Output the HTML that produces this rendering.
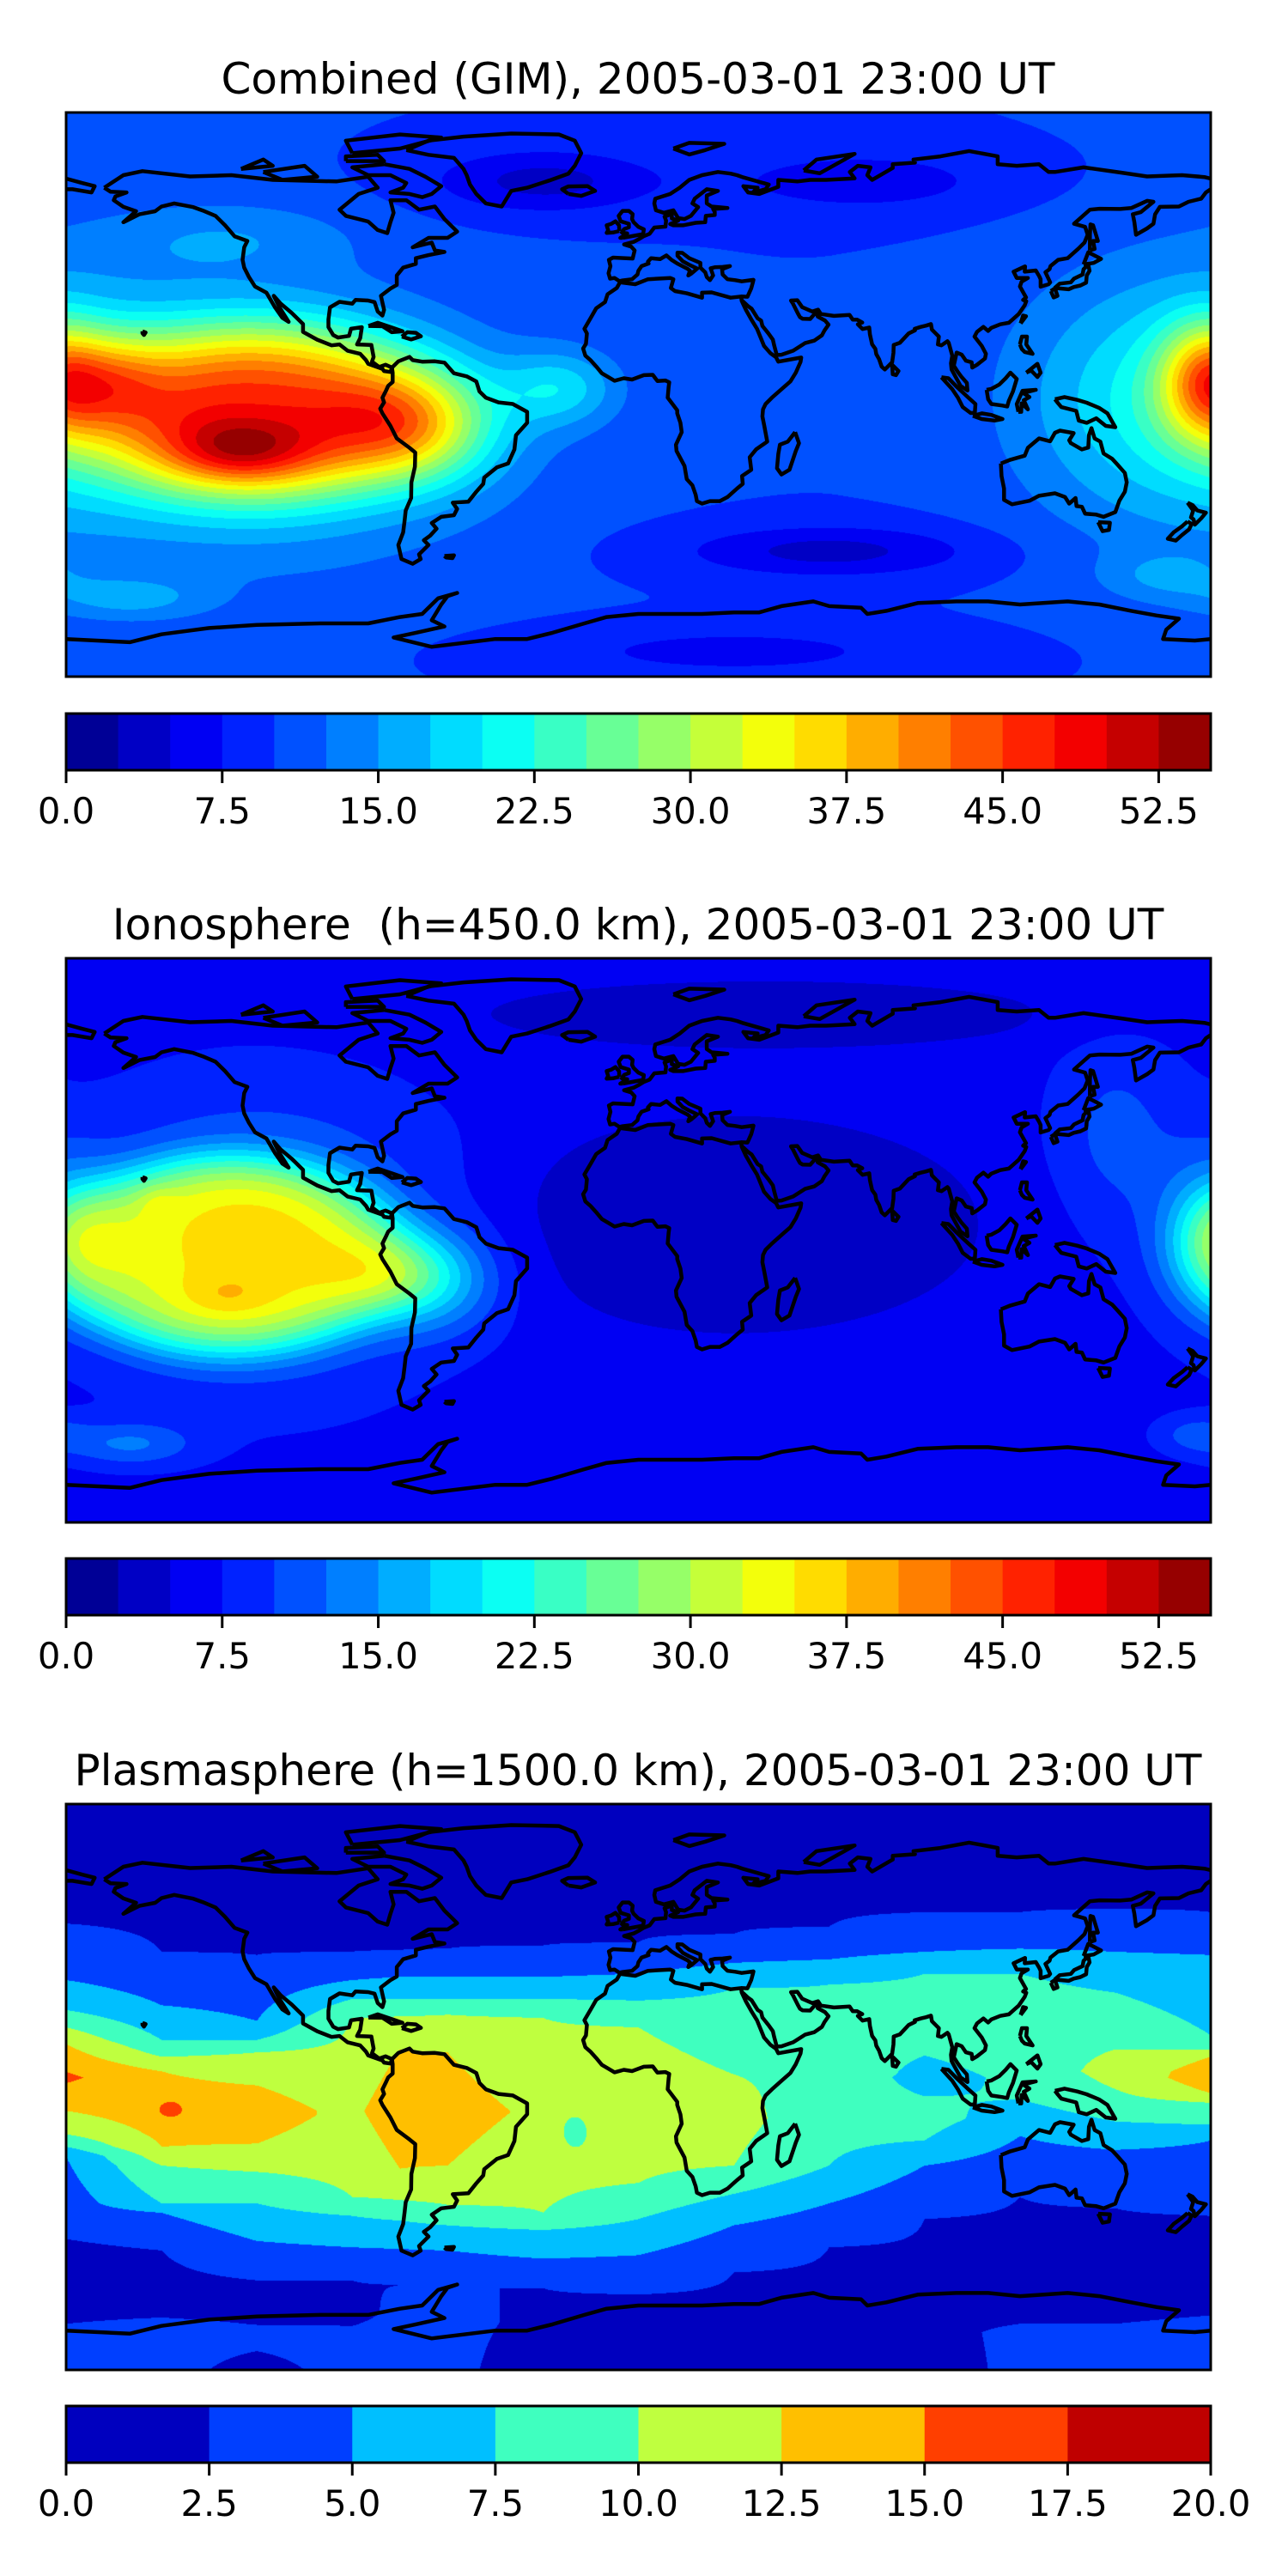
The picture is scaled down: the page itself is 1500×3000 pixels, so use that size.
<!DOCTYPE html>
<html><head><meta charset="utf-8">
<style>
html,body{margin:0;padding:0;background:#fff;}
#wrap{position:relative;width:1500px;height:3000px;overflow:hidden;background:#fff;}
canvas{position:absolute;}
svg{position:absolute;left:0;top:0;}
text{font-family:"DejaVu Sans","Liberation Sans",sans-serif;fill:#000;}
</style></head>
<body>
<div id="wrap">
<canvas id="map0" width="1333" height="657" style="left:77px;top:131px"></canvas>
<canvas id="map1" width="1333" height="657" style="left:77px;top:1116px"></canvas>
<canvas id="map2" width="1333" height="659" style="left:77px;top:2101px"></canvas>
<svg id="ov" width="1500" height="3000" xmlns="http://www.w3.org/2000/svg">
<text x="743" y="109" font-size="50" text-anchor="middle">Combined (GIM), 2005-03-01 23:00 UT</text>
<text x="743" y="1094" font-size="50" text-anchor="middle" xml:space="preserve">Ionosphere  (h=450.0 km), 2005-03-01 23:00 UT</text>
<text x="743" y="2079" font-size="50" text-anchor="middle">Plasmasphere (h=1500.0 km), 2005-03-01 23:00 UT</text>
</svg>
</div>
<script>
// ---- data ----
const panelTops = [131, 1116, 2101];
const cbarTops = [831, 1815, 2802];
const levelStep = [2.5, 2.5, 2.5];
const levelCount = [22, 22, 8];
const tickValues01 = [0, 7.5, 15, 22.5, 30, 37.5, 45, 52.5];
const tickLabels01 = ["0.0","7.5","15.0","22.5","30.0","37.5","45.0","52.5"];
const tickValues2 = [0, 2.5, 5, 7.5, 10, 12.5, 15, 17.5, 20];
const tickLabels2 = ["0.0","2.5","5.0","7.5","10.0","12.5","15.0","17.5","20.0"];

// combined (GIM) blobs: lon, lat, amplitude, sigma-lon, sigma-lat, shape exponent
const combBase = 10;
const combLon = [-120,-125,-165,178,-25,-70,-120,165,-30,70,60,30,-160,165,-130];
const combLat = [-5,-18,5,5,2,-10,-10,0,68,68,-50,-82,-65,-58,50];
const combAmp = [26,10,8,18,8,15,10,9,-6,-4,-6,-3.5,5,4,4];
const combSx = [55,22,15,14,18,25,70,45,35,45,45,60,25,20,40];
const combSy = [28,10,15,18,12,18,40,40,10,10,8,8,7,8,12];
const combQ = [1.5,1,1,1,1,1,1,1,1,1,1,1,1,1,1];

// ionosphere blobs
const ionoBase = 6.5;
const ionoLon = [-130,-120,-151,-130,180,-70,30,40,-160,175,150];
const ionoLat = [-5,0,12,-18,3,-12,5,72,-65,-62,35];
const ionoAmp = [21,9,2.5,3,10,14,-3,-3,6,4,4];
const ionoSx = [55,55,6,14,16,22,85,100,20,12,20];
const ionoSy = [32,42,5,7,22,15,38,12,7,6,30];
const ionoQ = [2.5,1,1,1,1,1,2,1.5,1,1,1];

// plasmasphere: latitude profiles at longitude nodes (contour crossings)
const plasNodeLon = [-180,-150,-120,-90,-75,-60,-30,0,30,60,90,120,150,180];
const plasNodeLat = [
  [90,52,34,24.5,19,13.6,3,-7.6,-15,-19,-22,-45,-55,-70,-78,-90],
  [90,43,26,15,9.6,5,-7.6,-19,-25,-37,-40,-52,-70,-75,-90],
  [90,42,21,15,11,0.5,-9,-18,-27,-37,-49,-61.5,-71,-78,-90],
  [90,43,34,28,22,-7.6,-35,-41,-51,-61.5,-72,-80,-90],
  [90,43.5,35,28,22.5,12,-8,-26,-36,-42.5,-51.5,-63,-75,-90],
  [90,44,35,28,23,11,-7.6,-25,-37.5,-44,-52,-64,-75,-90],
  [90,45,35,28,22,-8,-40,-45.5,-54.6,-64,-90],
  [90,46,36,27.5,19,-8,-30.5,-42,-53.5,-66,-90],
  [90,48.7,39.5,31.4,4,-10,-25,-34,-44,-59,-90],
  [90,51,40.6,32.6,4,-25,-37,-51,-90],
  [90,55.6,43,36,21,10,3,-3,-10,-17,-25,-42,-90],
  [90,55.6,44,36,21,-4,-15.6,-35,-70,-78,-90],
  [90,56.7,43,30,12,5,-0.7,-11,-20,-38.6,-70,-78,-90],
  [90,55.6,42,16.5,12,9.6,3,-2,-5,-12,-17,-41,-68,-75,-90]
];
const plasNodeVal = [
  [1,2.5,5,7.5,10,12.5,15.5,12.5,10,7.5,5,3,1.5,1.5,3,3],
  [1,2.5,5,7.5,10,12.5,14,12.5,10,7.5,5,2.5,1.5,3,3],
  [1,2.5,5,7.5,10,12.5,13.5,12.5,10,7.5,5,2.5,1.5,3,2],
  [1,2.5,5,7.5,10,12,10,7.5,5,2.5,2,3,3],
  [1,2.5,5,7.5,10,12.5,14,12.5,10,7.5,5,2.5,3,3],
  [1,2.5,5,7.5,10,12.5,13.5,12.5,10,7.5,5,2.5,3,3],
  [1,2.5,5,7.5,10,12,10,7.5,5,2.5,1.5],
  [1,2.5,5,7.5,10,12,10,7.5,5,2.5,1.5],
  [1,2.5,5,7.5,10,10.8,10,7.5,5,2.5,1.5],
  [1,2.5,5,7.5,9.5,7.5,5,2.5,1.5],
  [1,2.5,5,7.5,9,7.5,6.5,7.5,8.5,7.5,5,2.5,1.5],
  [1,2.5,5,7.5,9.5,7.5,5,2.5,1.5,3,3],
  [1,2.5,5,7.5,10,11,10,7.5,5,2.5,1.5,3,3],
  [1,2.5,5,7.5,10,12.5,14,12.5,10,7.5,5,2.5,1.5,3,3]
];
const plasLon = [-20,-147];
const plasLat = [-12,-7];
const plasAmp = [-2,2.5];
const plasSx = [8,4];
const plasSy = [10,3];
const plasQ = [1,1];

// coastlines (lon,lat)
const coastNA=[[-168,66],[-162,70],[-156,71.3],[-141,69.6],[-128,70],[-115,68.5],[-95,68],[-85,69.5],[-82,66],[-88,64],[-94,59],[-92,57],[-85,55.2],[-82,52.5],[-79,51.5],[-78,55],[-77,58],[-78,62],[-73,62],[-69,59],[-64,60],[-61,56],[-57,52],[-60,50],[-66,50],[-71,47],[-65,48.5],[-64,46],[-61,45.5],[-66,44.5],[-70,43.5],[-70,41.7],[-74,40.5],[-76,38],[-76,35],[-78,33.8],[-81,31.5],[-80,27],[-80.5,25.2],[-82,26.5],[-83,29.5],[-85,30],[-89,30.2],[-90,29],[-94,29.6],[-97,27.8],[-97.5,24],[-97.5,21.5],[-96,19],[-94.5,18.2],[-91,18.7],[-90.4,21],[-87,21.5],[-87.5,18],[-88.5,16],[-84,15.8],[-83.3,12],[-83.8,10.5],[-81.5,8.8],[-79.5,9.5],[-77.5,8.6],[-78,7.2],[-80,7.5],[-80.5,8.2],[-85,9.8],[-85.7,11],[-87.5,13],[-91.5,14],[-94,16],[-96.5,15.7],[-101,17.5],[-105.5,20],[-105.5,22.5],[-109,26],[-112.5,29],[-114.7,31.5],[-113,28],[-110,23.2],[-112,24.5],[-114.3,27.8],[-117,32.5],[-120.6,34.5],[-122.5,37.5],[-124,40.5],[-124.5,43],[-124,47],[-123,49],[-127,50.5],[-130,54],[-133,57],[-137,58.7],[-140,59.8],[-146,61],[-150,60],[-152,58.5],[-157,57.5],[-162,55],[-158,58.5],[-162,59.9],[-165,62],[-164.5,63.2],[-161,64.5],[-166,64.7],[-168,66]];
const coastGreenland=[[-73,78],[-66,81],[-55,82.3],[-40,83.3],[-25,83],[-20,81],[-18,77],[-20,73],[-22,70.5],[-28,68.3],[-35,66],[-40,65],[-43,60],[-48,61],[-51,64],[-53,67],[-54,70],[-55,72],[-58,75.5],[-66,76.5],[-73,78]];
const coastBaffin=[[-80,73.5],[-72,72],[-67,69.5],[-62,66.5],[-65,64],[-68,63],[-72,64],[-78,64.5],[-74,66],[-73,67.5],[-78,70],[-85,70],[-90,72.5],[-80,73.5]];
const coastVictoria=[[-118,71],[-105,73],[-101,69.5],[-112,68.5],[-118,71]];
const coastEllesmere=[[-90,77],[-75,78.5],[-62,82],[-75,83],[-92,81],[-90,77]];
const coastBanks=[[-125,72],[-118,75],[-115,73],[-125,72]];
const coastDevon=[[-92,74.5],[-80,74.5],[-82,76.5],[-92,76],[-92,74.5]];
const coastSA=[[-77.5,8.6],[-75.5,10.6],[-72,12],[-71,11],[-68,10.5],[-64,10.6],[-61,10.2],[-58,6.8],[-54,5.8],[-51,4.2],[-50,1],[-48,-1],[-44,-2.5],[-39.5,-3],[-35,-5.5],[-35,-9],[-38.5,-13],[-39,-17.5],[-41,-22],[-44.5,-23.2],[-48.5,-26.5],[-48.8,-28.5],[-51,-31],[-53.5,-34.2],[-58.4,-34.5],[-57,-36.5],[-58,-38.5],[-62,-39],[-65,-41],[-63.5,-42.8],[-65.5,-45],[-67.5,-46.5],[-66,-48],[-69,-51],[-68.5,-52.5],[-71,-54],[-74.5,-52.5],[-75.5,-48],[-74,-44],[-73.5,-40],[-73.2,-37],[-71.5,-33],[-71.4,-28],[-70.3,-23],[-70.2,-18.5],[-72,-17],[-76,-14],[-78,-10],[-80.5,-6],[-81.2,-4.5],[-80,-2.5],[-80.5,-1],[-79.5,1],[-78.7,2.8],[-77.3,4],[-77.3,7],[-77.5,8.6]];
const coastAfrica=[[-5.8,35.8],[-1,35.2],[3,36.8],[10,37.2],[11,36.8],[10.2,34],[11.5,33],[15.2,32.3],[20,30.9],[20,32.5],[23,32.6],[29,30.9],[32.3,31.3],[32.5,29.9],[33.8,27],[35.5,24],[37.3,21],[38.5,18],[39.5,15.5],[41.5,13.2],[43.3,11.9],[44,10.5],[51.2,11.8],[51,10.4],[49.5,7],[47.8,4.2],[45,1.7],[42,-1],[40,-3],[39.2,-4.7],[39,-7],[39.6,-10],[40.5,-15],[37,-17.5],[35,-20],[35.5,-24],[32.6,-26],[32.8,-28.5],[31,-30],[28,-32.7],[25.6,-34],[22.5,-34],[20,-34.8],[18.4,-34],[18,-32],[17,-29],[15.2,-27],[14.5,-22.8],[12,-18],[11.8,-16],[13.6,-12],[13.2,-9],[12.2,-6],[12.2,-5],[9.2,-1],[9.5,2.5],[9.7,3.9],[8.5,4.5],[6,4.3],[4.5,6.3],[1.7,6.2],[-2,4.8],[-4.6,5.2],[-7.5,4.4],[-11.5,6.8],[-13.3,9],[-15,10.9],[-16.7,12.4],[-17.4,14.7],[-16.5,16.2],[-16.2,19.5],[-17,21],[-15,24.5],[-13.3,27.5],[-10.5,29.5],[-9.7,32],[-6.8,34],[-5.8,35.8]];
const coastEurasia=[[32.3,31.3],[34.3,31.2],[35.5,33.9],[36,35.8],[36.2,36.6],[32.5,36.1],[30.5,36.5],[28,36.8],[26.5,38.3],[26.3,40],[28.8,41],[26.5,40.7],[24,40.6],[22.7,40.3],[23.5,38],[22.5,36.5],[21.5,37.5],[21,39],[19.5,40.5],[19.5,42],[16,43.5],[13.8,45.2],[12.3,45.3],[12.3,44.3],[14,42.5],[16,41.4],[18.5,40.2],[16.5,38.5],[15.7,38],[16.2,39.5],[15.5,40.1],[12.2,41.8],[10.5,42.9],[8.8,44.4],[6.8,43.2],[4,43.5],[3,42.4],[3.2,41.8],[1,41],[0,39.5],[-0.3,38.3],[-2,36.8],[-5,36.4],[-6,36.2],[-7.5,37.2],[-8.9,37],[-9.4,38.7],[-8.8,41],[-9.3,43],[-8,43.7],[-1.8,43.4],[-1.2,46],[-2.3,47.2],[-4.5,47.9],[-1.5,48.7],[0,49.5],[1.6,50.5],[3.5,51.3],[5,53.3],[8.5,53.6],[8.7,55.5],[8.2,56.8],[10.5,57.6],[10.5,56.2],[12.5,55.5],[10,54.4],[11,54],[14,54],[18,54.8],[21,55],[21.2,57],[24,57.3],[24,58.3],[23.5,59.2],[28,59.5],[23,60],[21.5,61],[21.5,63.5],[25,65],[21.5,65.5],[17.7,62.5],[17,61],[18.8,59.8],[16.5,57],[14.5,56],[12.5,56.3],[11,58.8],[8,58],[5.5,58.8],[5,61],[5.3,62.5],[10,64],[13,66],[16,68.5],[20,70],[25,71],[29,70.5],[31,70],[33,69.3],[41,67],[40,65.5],[36,64.5],[37.5,66],[33,66.5],[34.5,64.5],[38,64],[44,66.3],[44,68.5],[50,68],[54,68.5],[59,68.5],[68,69],[66.5,71],[69,73],[73,72.5],[72,70],[73.5,68.5],[80,72.3],[80,73.5],[87,74],[86.5,75],[95,76],[104,77.7],[113,76],[113,73.5],[119,73],[126,73.5],[129,71],[131,71],[140,72.5],[152,70.8],[160,69.6],[168,69.9],[171,70],[178,69.4],[180,68.9]];
const coastEurasia2=[[180,65.5],[178.5,64.5],[177,62.5],[173,61.5],[170,60],[164,59.9],[162.5,57.5],[162,54.5],[160,53],[156.5,51],[156,55],[155.5,57.5],[158,58.2],[162,61.5],[160,61.8],[155,59.5],[151.5,59.2],[145,59.3],[142,59],[137,54.5],[140.5,53.5],[141.3,51],[140.3,48.5],[138.3,46.5],[135,43.5],[132,43],[129.6,41],[129.3,40],[128,39],[129.5,35.8],[129,35.2],[126.5,34.4],[126.5,36.8],[126.1,37.7],[125,39.6],[121.5,39.2],[121.6,40.9],[118,39.2],[119,37.2],[122.5,37.2],[120.5,36],[120,34.5],[121.9,31],[121,30.2],[122,29.8],[121.5,28.5],[119.6,25.7],[116.5,22.9],[113.8,22.4],[111,21.3],[110,20.3],[108.5,21.6],[106.5,20],[105.7,18.5],[108,15.5],[109.3,13],[109,11.5],[106.5,9.5],[105,8.6],[104.8,10.3],[103,10.8],[101.7,12.7],[100.1,13.4],[99.2,9.2],[100.4,7.3],[101.5,5.8],[103.3,3.7],[103.5,1.3],[101.3,2.8],[98.5,8],[98.3,10],[98.7,12.4],[97.6,16.5],[97.2,17],[95.3,15.7],[94.2,16],[94.5,18.5],[93.5,19.5],[92.3,20.7],[92,22.5],[90.5,22],[88.8,21.6],[86.9,21],[87,20.5],[85,19.5],[82.2,16.5],[80.3,15.8],[80.2,13.3],[79.8,10.3],[77.5,8],[76.5,8.9],[75.7,11.3],[74.8,12.9],[74.5,14.6],[73.5,16],[72.8,19.2],[72.6,21.4],[70.5,20.9],[69,22.4],[70.4,23],[68.8,23.9],[67.4,23.9],[66.4,25.4],[61.5,25.1],[57.4,25.7],[56.5,27.1],[54.7,26.5],[51.5,27.9],[50,30.1],[48,30],[48.6,29],[50.1,26],[50.8,24.7],[51.6,24.2],[54,24.1],[56,26.4],[56.4,24.9],[58.7,23.6],[59.8,22.3],[58.5,20.4],[57.7,18.9],[55.3,17.2],[52.4,16.4],[48.7,14],[45,12.7],[43.5,12.6],[42.7,15.7],[42.3,17.5],[40.9,19.5],[39,21.9],[38.6,23.6],[37.5,24.3],[35.6,27.4],[34.6,28.1],[32.6,30]];
const coastChukotka=[[-180,68.9],[-175,67.5],[-171,66.5],[-172,64.5],[-178,65.5],[-180,65.5]];
const coastBritain=[[-5,50],[1.5,51.2],[1.7,52.7],[0,53.5],[-1.5,55],[-2,56],[-1.8,57.6],[-3,58.6],[-5,58.6],[-6.2,57],[-5.6,55.3],[-3,54.5],[-3,53.4],[-4.5,52.8],[-5.2,51.7],[-3.5,51.4],[-5.7,50],[-5,50]];
const coastIreland=[[-6,52.2],[-6.1,54],[-7.2,55.3],[-8.5,54.5],[-10,54],[-9.5,52.4],[-10,51.6],[-8,51.7],[-6,52.2]];
const coastIceland=[[-22,64],[-24,65.5],[-22,66.4],[-16,66.5],[-13.6,65],[-18,63.4],[-22,64]];
const coastHonshu=[[130.9,34],[132.5,35.4],[136,35.8],[137,37],[139.7,38.3],[140,40],[141.5,41.4],[141.9,39.5],[141,38],[140.8,35.7],[139,34.8],[136.9,34.3],[135.3,33.6],[132,33.9],[130.9,34]];
const coastHokkaido=[[140,41.5],[141.5,45.4],[145.5,43.3],[143.2,42],[140,41.5]];
const coastKyushu=[[129.7,33],[131,33.9],[131.8,31.5],[130.6,31],[129.7,33]];
const coastSakhalin=[[142,46],[143.5,46.5],[143,49],[144.5,49],[143,54],[142.2,54.3],[142,51],[142,46]];
const coastTaiwan=[[120.2,22.7],[121.9,25],[121,25.2],[120.2,22.7]];
const coastLuzon=[[120,16],[120.6,18.5],[122.2,18.5],[122,16],[124,13],[121.5,13.6],[120.6,14.5],[120,16]];
const coastMindanao=[[122,7],[125.5,9.8],[126.5,7],[125.5,5.6],[123.5,7.7],[122,7]];
const coastBorneo=[[109.5,1.5],[111,1.8],[113.5,3.2],[115.5,5.2],[117,7],[119,5],[117.8,1],[116.5,-2],[116,-3.8],[114.5,-3.5],[111,-3],[110,-1.5],[109.5,1.5]];
const coastSumatra=[[95.3,5.5],[97.5,5.2],[100.4,2.2],[103.8,-1],[106,-3],[105.8,-5.8],[104.5,-5.9],[102,-4],[100.5,-1],[98.7,1.7],[95.3,5.5]];
const coastJava=[[105.2,-6.8],[108,-6],[111,-6.5],[114.5,-7.8],[112,-8.3],[108,-7.8],[105.2,-6.8]];
const coastSulawesi=[[119.5,-5.5],[119,-3],[120.8,1.2],[125,1.5],[121,0.5],[123,-0.8],[121.2,-1.8],[122.5,-4.7],[120.5,-2.8],[120.4,-5.5],[119.5,-5.5]];
const coastNewGuinea=[[131,-1.5],[134,-0.8],[138,-1.7],[141,-2.6],[145,-4.3],[147.5,-6],[150,-10.4],[147,-10],[144,-7.6],[141,-9],[138.5,-8.3],[137.7,-5.2],[133,-4],[132,-2.8],[131,-1.5]];
const coastAustralia=[[114,-22],[114.2,-26],[115,-30],[115,-33.6],[117.5,-35],[123,-33.9],[126,-32.3],[131,-31.5],[134.2,-32.7],[135.5,-34.8],[137.5,-33],[137.8,-35.6],[139.5,-35.8],[140.5,-38],[144,-38.3],[146.3,-39],[150,-37.5],[151.3,-33.8],[153,-31],[153.6,-28],[153,-25],[150.8,-22.5],[149,-20.5],[146.3,-18.8],[145.3,-15],[143.5,-14],[142.5,-10.7],[141.7,-13],[141.5,-16.9],[139.5,-17.5],[136,-15.5],[135.5,-14.6],[136.9,-12.3],[132.6,-11.5],[131,-12.2],[129.5,-14.9],[126,-14],[122.5,-17],[121.5,-19.5],[117,-20.8],[114,-22]];
const coastTasmania=[[144.6,-40.7],[148.3,-40.9],[148,-43.2],[146,-43.6],[144.6,-40.7]];
const coastNZN=[[172.7,-34.5],[174.3,-35.3],[175.8,-37],[178.5,-37.7],[177,-39.5],[175,-41.5],[174.6,-39.8],[173.8,-39.2],[174.5,-37],[172.7,-34.5]];
const coastNZS=[[172.7,-40.5],[174,-41.3],[173.2,-43],[171,-44.8],[169,-46.6],[166.5,-46],[168.3,-44],[171,-42],[172.7,-40.5]];
const coastMadagascar=[[49.3,-12],[50.5,-15.5],[49.5,-18],[47.5,-24],[45,-25.5],[43.6,-23.5],[44,-19],[44.5,-16],[47,-15],[49.3,-12]];
const coastSriLanka=[[79.8,9.5],[81.8,7.5],[81,6.2],[80,6.5],[79.8,9.5]];
const coastCuba=[[-84.9,21.9],[-82,22.9],[-77,21.2],[-74.2,20.2],[-77.6,19.9],[-80.5,21.8],[-84.9,21.9]];
const coastHispaniola=[[-74.4,18.5],[-72.7,19.9],[-70,19.7],[-68.4,18.6],[-71.5,17.6],[-74.4,18.5]];
const coastNovaya=[[52,71.5],[56,75],[68,76.8],[57,70.6],[52,71.5]];
const coastSvalbard=[[11,78.5],[16,80.3],[27,80],[21,78],[16,76.6],[11,78.5]];
const coastHawaii=[[-156,20.2],[-155,19.8],[-155.5,19],[-156,19.6],[-156,20.2]];
const coastFalkland=[[-61,-51.5],[-58,-51.3],[-58.5,-52.2],[-60.5,-52],[-61,-51.5]];
const coastAntarctica=[[-180,-78],[-160,-79],[-150,-76.5],[-135,-74.5],[-120,-73.5],[-100,-73],[-85,-73],[-75,-71],[-68,-70],[-63,-65],[-57,-63.3],[-60,-64.3],[-62,-67],[-65,-72],[-61,-74],[-70,-76],[-77,-77.5],[-65,-80.5],[-45,-78],[-35,-78],[-27,-76],[-17,-73],[-10,-71],[0,-70],[10,-70],[20,-70],[30,-69.5],[38,-69.5],[45,-67.5],[55,-66],[60,-67.5],[70,-68],[72,-70],[78,-69],[88,-66.5],[100,-66],[110,-66],[120,-67],[135,-66],[145,-67],[155,-69],[163,-70.5],[170,-71.5],[166,-75],[165,-78],[175,-78.5],[180,-78]];
const coastlines=[coastNA,coastGreenland,coastBaffin,coastVictoria,coastEllesmere,coastBanks,coastDevon,coastSA,coastAfrica,coastEurasia,coastEurasia2,coastChukotka,coastBritain,coastIreland,coastIceland,coastHonshu,coastHokkaido,coastKyushu,coastSakhalin,coastTaiwan,coastLuzon,coastMindanao,coastBorneo,coastSumatra,coastJava,coastSulawesi,coastNewGuinea,coastAustralia,coastTasmania,coastNZN,coastNZS,coastMadagascar,coastSriLanka,coastCuba,coastHispaniola,coastNovaya,coastSvalbard,coastHawaii,coastFalkland,coastAntarctica];

// ---- helpers ----
const X0 = 77, W = 1333, H = 657;
function xOf(lon){ return X0 + (lon + 180) / 360 * W; }
function yOf(lat, top){ return top + (90 - lat) / 180 * H; }
function clamp(v){ return Math.max(0, Math.min(1, v)); }
function jet(x){
  return [clamp(Math.min(4*x-1.5, -4*x+4.5)), clamp(Math.min(4*x-0.5, -4*x+3.5)), clamp(Math.min(4*x+0.5, -4*x+2.5))];
}
function blobSum(lon, lat, L, La, A, Sx, Sy, Q){
  let s = 0;
  for (let k = 0; k < L.length; k++){
    let d = lon - L[k];
    if (d > 180) d -= 360; if (d < -180) d += 360;
    const r2 = (d/Sx[k])*(d/Sx[k]) + ((lat-La[k])/Sy[k])*((lat-La[k])/Sy[k]);
    s += A[k] * Math.exp(-Math.pow(r2, Q[k]));
  }
  return s;
}
function profileAt(n, lat){
  const la = plasNodeLat[n], va = plasNodeVal[n];
  for (let k = 0; k < la.length - 1; k++){
    if (lat <= la[k] && lat >= la[k+1]){
      const t = (la[k] - lat) / (la[k] - la[k+1] || 1);
      return va[k] + t * (va[k+1] - va[k]);
    }
  }
  return va[va.length - 1];
}
function plasField(lon, lat){
  let n = 0;
  while (n < plasNodeLon.length - 2 && lon > plasNodeLon[n+1]) n++;
  const t = (lon - plasNodeLon[n]) / (plasNodeLon[n+1] - plasNodeLon[n]);
  const v = profileAt(n, lat) * (1 - t) + profileAt(n+1, lat) * t;
  return v + blobSum(lon, lat, plasLon, plasLat, plasAmp, plasSx, plasSy, plasQ);
}
const fields = [
  (lon, lat) => combBase + blobSum(lon, lat, combLon, combLat, combAmp, combSx, combSy, combQ),
  (lon, lat) => ionoBase + blobSum(lon, lat, ionoLon, ionoLat, ionoAmp, ionoSx, ionoSy, ionoQ),
  plasField
];

// ---- draw maps ----
for (let p = 0; p < 3; p++){
  const cv = document.getElementById('map' + p);
  const ctx = cv.getContext('2d');
  const w = cv.width, h = cv.height;
  const img = ctx.createImageData(w, h);
  const N = levelCount[p], step = levelStep[p];
  const pal = [];
  for (let i = 0; i < N; i++){ const c = jet((i + 0.5) / N); pal.push([c[0]*255|0, c[1]*255|0, c[2]*255|0]); }
  for (let j = 0; j < h; j++){
    const lat = 90 - (j + 0.5) / h * 180;
    for (let i = 0; i < w; i++){
      const lon = -180 + (i + 0.5) / w * 360;
      let li = Math.floor(fields[p](lon, lat) / step);
      if (li < 0) li = 0; if (li >= N) li = N - 1;
      const o = (j * w + i) * 4, c = pal[li];
      img.data[o] = c[0]; img.data[o+1] = c[1]; img.data[o+2] = c[2]; img.data[o+3] = 255;
    }
  }
  ctx.putImageData(img, 0, 0);
}

// ---- overlay svg ----
const NS = 'http://www.w3.org/2000/svg';
const svg = document.getElementById('ov');
const names = ['combined', 'ionosphere', 'plasmasphere'];
for (let p = 0; p < 3; p++){
  const top = panelTops[p];
  const g = document.createElementNS(NS, 'g');
  
  
  coastlines.forEach(line => {
    const path = document.createElementNS(NS, 'path');
    
    
    path.setAttribute('d', line.map((pt, k) => (k ? 'L' : 'M') + xOf(pt[0]).toFixed(1) + ' ' + yOf(pt[1], top).toFixed(1)).join(''));
    path.setAttribute('fill', 'none');
    path.setAttribute('stroke', '#000');
    path.setAttribute('stroke-width', '4.5');
    path.setAttribute('stroke-linejoin', 'round');
    g.appendChild(path);
  });
  svg.appendChild(g);
  const frame = document.createElementNS(NS, 'rect');
  
  
  frame.setAttribute('x', X0); frame.setAttribute('y', top);
  frame.setAttribute('width', W); frame.setAttribute('height', p == 2 ? 659 : H);
  frame.setAttribute('fill', 'none'); frame.setAttribute('stroke', '#000'); frame.setAttribute('stroke-width', '3');
  svg.appendChild(frame);

  // colorbar
  const ct = cbarTops[p], ch = 66, N = levelCount[p], step = levelStep[p];
  const vmax = N * step;
  const cx = v => X0 + v / vmax * W;
  for (let i = 0; i < N; i++){
    const c = jet((i + 0.5) / N);
    const r = document.createElementNS(NS, 'rect');
    
    
    r.setAttribute('x', cx(i * step)); r.setAttribute('y', ct);
    r.setAttribute('width', cx((i + 1) * step) - cx(i * step) + 0.6); r.setAttribute('height', ch);
    r.setAttribute('fill', 'rgb(' + (c[0]*255|0) + ',' + (c[1]*255|0) + ',' + (c[2]*255|0) + ')');
    svg.appendChild(r);
  }
  const cb = document.createElementNS(NS, 'rect');
  
  
  cb.setAttribute('x', X0); cb.setAttribute('y', ct); cb.setAttribute('width', W); cb.setAttribute('height', ch);
  cb.setAttribute('fill', 'none'); cb.setAttribute('stroke', '#000'); cb.setAttribute('stroke-width', '3');
  svg.appendChild(cb);
  const tv = p < 2 ? tickValues01 : tickValues2;
  const tl = p < 2 ? tickLabels01 : tickLabels2;
  tv.forEach((v, k) => {
    const t = document.createElementNS(NS, 'line');
    
    
    t.setAttribute('x1', cx(v)); t.setAttribute('x2', cx(v));
    t.setAttribute('y1', ct + ch); t.setAttribute('y2', ct + ch + 15);
    t.setAttribute('stroke', '#000'); t.setAttribute('stroke-width', '3');
    svg.appendChild(t);
    const tx = document.createElementNS(NS, 'text');
    
    
    tx.setAttribute('x', cx(v)); tx.setAttribute('y', ct + ch + 62);
    tx.setAttribute('font-size', '41.7'); tx.setAttribute('text-anchor', 'middle');
    tx.textContent = tl[k];
    svg.appendChild(tx);
  });
}
</script>
</body></html>
